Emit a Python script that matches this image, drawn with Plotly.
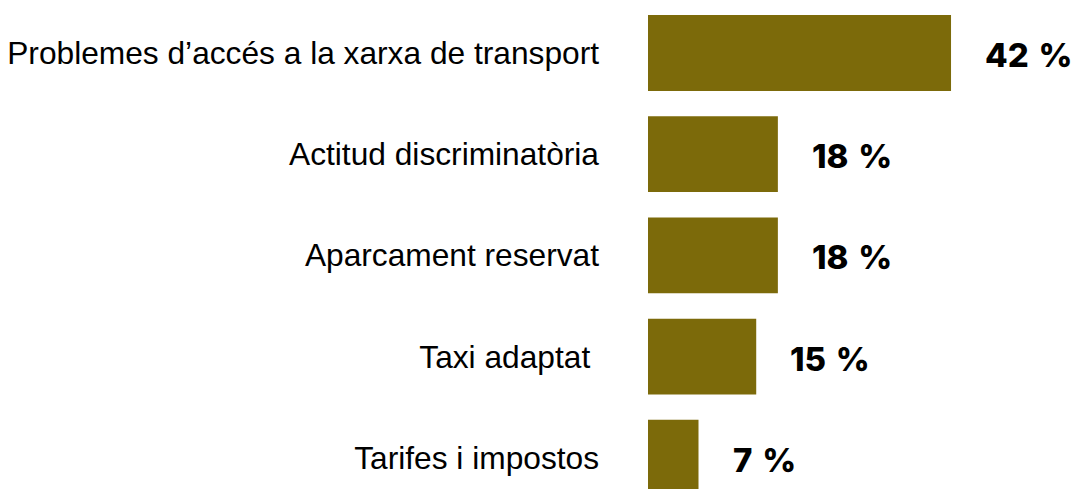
import plotly.graph_objects as go

# Survey results: barriers reported in transport access
categories = [
    "Problemes d’accés a la xarxa de transport",
    "Actitud discriminatòria",
    "Aparcament reservat",
    "Taxi adaptat ",
    "Tarifes i impostos",
]
values = [42, 18, 18, 15, 7]
value_labels = [f"{v}\u2009\u2009%" for v in values]

BAR_COLOR = "#7c6a0a"

fig = go.Figure(
    go.Bar(
        x=values,
        y=categories,
        orientation="h",
        marker=dict(color=BAR_COLOR, line=dict(width=0)),
        width=0.75,
        hoverinfo="skip",
    )
)

# Bold percentage labels placed to the right of each bar
for cat, v, lbl in zip(categories, values, value_labels):
    fig.add_annotation(
        x=v, y=cat, text=lbl,
        xref="x", yref="y", xanchor="left", yanchor="middle",
        xshift=32, yshift=-2, showarrow=False,
        font=dict(family="Inter", size=33, weight=800, color="#000000"),
    )

fig.update_layout(
    width=1077, height=489,
    margin=dict(l=648, r=0, t=0, b=0),
    paper_bgcolor="white", plot_bgcolor="white",
    showlegend=False,
    xaxis=dict(range=[0, 59.46], visible=False, fixedrange=True),
    yaxis=dict(
        categoryorder="array", categoryarray=categories,
        range=[4.308, -0.523],
        showgrid=False, zeroline=False, showline=False, ticks="",
        ticklabelstandoff=48,
        tickfont=dict(family="Liberation Sans, Arial", size=31.7, color="#000000"),
    ),
)

fig.write_html("out.html")
